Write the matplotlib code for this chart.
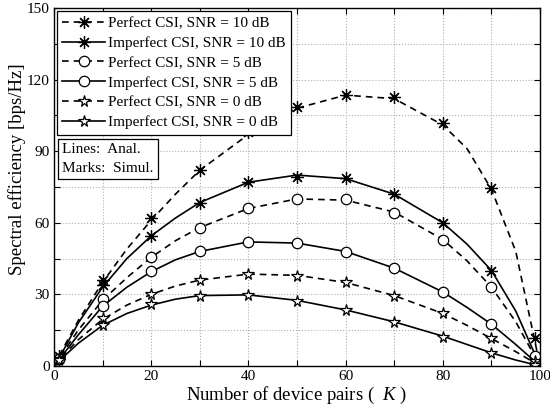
import matplotlib
matplotlib.use('Agg')
import matplotlib.pyplot as plt

plt.rcParams['font.family'] = 'Liberation Serif'
plt.rcParams['mathtext.fontset'] = 'custom'
plt.rcParams['mathtext.it'] = 'Liberation Serif:italic'

# analytical curves (lines)
k_line = [0, 1, 5, 10, 15, 20, 25, 30, 40, 50, 60, 70, 80, 85, 90, 95, 100]
perf_10_line = [0, 4, 19, 35, 49, 61, 72, 82, 97, 108, 113.5, 112, 101, 91, 74, 48, 0]
imp_10_line = [0, 3, 18, 33, 45, 54.5, 62, 68.5, 77, 80, 78.5, 72, 60, 51, 40, 23, 0]
perf_5_line = [0, 3, 15, 27.5, 37, 45.5, 52.5, 58, 66, 70, 69.5, 64.5, 53, 44, 33, 18.5, 0]
imp_5_line = [0, 2.5, 13, 25, 33, 39.5, 44.5, 48, 52, 51.5, 48, 41, 31, 24.5, 17.5, 9, 0]
perf_0_line = [0, 2.5, 11, 19.5, 25.5, 30, 33.5, 36, 38.5, 38, 35, 29.5, 22, 17, 11.5, 6, 0]
imp_0_line = [0, 2, 9.5, 17, 22, 25.5, 28, 29.5, 29.8, 27.5, 23.5, 18.5, 12.5, 9, 5.5, 2.5, 0]

# simulation points (marks)
k_sim = [1, 10, 20, 30, 40, 50, 60, 70, 80, 90, 99]
perf_10_sim = [4, 36, 62, 82, 98, 108.4, 113.5, 112.6, 101.7, 74.4, 11.8]
imp_10_sim = [3, 34, 54.5, 68.5, 77, 79.4, 78.6, 72.2, 60, 40, 3]
perf_5_sim = [3, 28, 45.5, 58, 66, 70, 70, 64.3, 53, 33, 4]
imp_5_sim = [3, 25, 40, 48, 52, 51.6, 47.8, 41, 31, 17.5, 1]
perf_0_sim = [3, 20, 30, 36, 38.5, 37.9, 35, 29.5, 22, 11.7, 2]
imp_0_sim = [2.5, 17, 26, 29.5, 29.8, 27.3, 23.5, 18.5, 12.2, 5.5, 0.5]

labels = ['Perfect CSI, SNR = 10 dB', 'Imperfect CSI, SNR = 10 dB',
          'Perfect CSI, SNR = 5 dB', 'Imperfect CSI, SNR = 5 dB',
          'Perfect CSI, SNR = 0 dB', 'Imperfect CSI, SNR = 0 dB']

lines = [perf_10_line, imp_10_line, perf_5_line, imp_5_line, perf_0_line, imp_0_line]
sims = [perf_10_sim, imp_10_sim, perf_5_sim, imp_5_sim, perf_0_sim, imp_0_sim]
styles = ['--', '-', '--', '-', '--', '-']
asterisk = (8, 2, 0)
markers = [asterisk, asterisk, 'o', 'o', '*', '*']
msizes = [9, 9, 7.5, 7.5, 8.5, 8.5]

fig = plt.figure(figsize=(5.5, 4.11), dpi=100)
ax = fig.add_axes([0.098, 0.1095, 0.884, 0.871])

handles = []
for y, s, ls, m, ms, lab in zip(lines, sims, styles, markers, msizes, labels):
    ln, = ax.plot(k_line, y, ls, color='black', lw=1.2)
    if ls == '--':
        ln.set_dashes((4, 3))
    ax.plot(k_sim, s, linestyle='none', marker=m, ms=ms, mfc='white',
            mec='black', mew=0.9, color='black')
    h, = ax.plot([], [], ls, color='black', lw=1.2, marker=m, ms=ms,
                 mfc='white', mec='black', mew=0.9)
    if ls == '--':
        h.set_dashes((4, 3))
    handles.append(h)

ax.set_xlim(0, 100)
ax.set_ylim(0, 150)
ax.set_xticks(range(0, 101, 10))
ax.set_xticklabels([str(v) if v % 20 == 0 else '' for v in range(0, 101, 10)])
ax.set_yticks(range(0, 151, 15))
ax.set_yticklabels([str(v) if v % 30 == 0 else '' for v in range(0, 151, 15)])
ax.tick_params(direction='in', top=True, right=True, length=4, labelsize=11, pad=3)
ax.grid(True, linestyle=':', color='#b0b0b0', lw=0.8)
for sp in ax.spines.values():
    sp.set_linewidth(1.0)

ax.set_xlabel('Number of device pairs (  $\\mathit{K}$ )', fontsize=13.5, labelpad=1)
ax.set_ylabel('Spectral efficiency [bps/Hz]', fontsize=13.5)
ax.yaxis.set_label_coords(-0.058, 0.55)

leg = ax.legend(handles, labels, loc='upper left', fontsize=11, handlelength=2.8,
                frameon=True, fancybox=False, edgecolor='black', framealpha=1,
                borderaxespad=0.2, labelspacing=0.4, handletextpad=0.2,
                borderpad=0.35)
leg.get_frame().set_linewidth(0.9)

ax.text(0.017, 0.622, 'Lines:  Anal.\nMarks:  Simul.', transform=ax.transAxes,
        fontsize=11, va='top', ha='left', linespacing=1.55,
        bbox=dict(boxstyle='square,pad=0.3', fc='white', ec='black', lw=0.9))

fig.savefig('out.png', dpi=100)
